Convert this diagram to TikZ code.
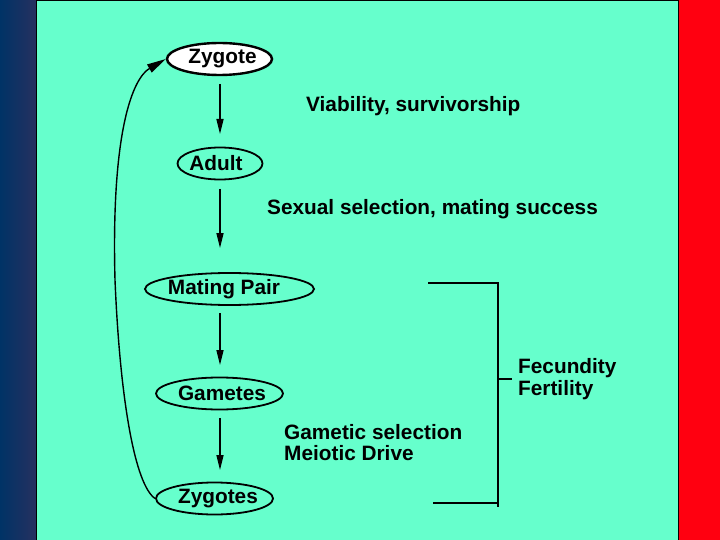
\documentclass[tikz,border=0pt]{standalone}
\usepackage{fontspec}
\setmainfont{Liberation Sans}
\usetikzlibrary{shapes.geometric,arrows.meta}
\definecolor{aqua}{HTML}{66FFCC}
\definecolor{stripL}{HTML}{003366}
\definecolor{stripR}{HTML}{263060}
\definecolor{redstrip}{HTML}{FF0010}
\tikzset{
  stage/.style={ellipse, draw=black, line width=1.8pt, inner sep=0pt,
    minimum height=32pt},
  stagetext/.style={inner sep=0pt, font=\fontsize{20.8}{22}\selectfont\bfseries},
  lbl/.style={anchor=west, align=left, inner sep=0pt,
    font=\fontsize{20.8}{21.5}\selectfont\bfseries},
  flow/.style={line width=1.5pt, -{Triangle[length=15pt,width=7pt]}},
  backflow/.style={line width=1.4pt, -{Triangle[length=19pt,width=9pt]}},
  brk/.style={line width=2pt}
}
\begin{document}
\begin{tikzpicture}[x=1pt,y=-1pt]
\useasboundingbox (0,0) rectangle (720,540);
% background
\fill[aqua] (0,0) rectangle (720,540);
\shade[left color=stripL, right color=stripR] (0,0) rectangle (36,540);
\fill[redstrip] (679,0) rectangle (720,540);
\draw[line width=1.2pt] (36.6,0) -- (36.6,540);
\draw[line width=1.2pt] (678.4,0) -- (678.4,540);
\draw[line width=1.2pt] (36,0.6) -- (679,0.6);
% stages
\node[stage, fill=white, minimum width=105pt, line width=2.4pt] (zyg) at (219.5,59) {};
\node[stagetext] (zygt) at ([xshift=3pt]zyg.center) {Zygote};
\node[stage, minimum width=85pt] (adult) at (220,163.5) {};
\node[stagetext] (adultt) at ([xshift=-4pt]adult.center) {Adult};
\node[stage, minimum width=169pt] (pair) at (229.5,289) {};
\node[stagetext] (pairt) at ([xshift=-5.5pt]pair.center) {Mating Pair};
\node[stage, minimum width=127pt] (gam) at (219.5,393.5) {};
\node[stagetext] (gamt) at ([xshift=2.5pt]gam.center) {Gametes};
\node[stage, minimum width=117pt] (zygs) at (214.5,498.5) {};
\node[stagetext] (zygst) at ([xshift=3.5pt]zygs.center) {Zygotes};
% flow arrows
\coordinate (a1s) at (220,84); \coordinate (a1e) at (220,134);
\coordinate (a2s) at (220,189); \coordinate (a2e) at (220,248);
\coordinate (a3s) at (220,313); \coordinate (a3e) at (220,365);
\coordinate (a4s) at (220,418); \coordinate (a4e) at (220,470);
\draw[flow] (a1s) -- (a1e);
\draw[flow] (a2s) -- (a2e);
\draw[flow] (a3s) -- (a3e);
\draw[flow] (a4s) -- (a4e);
% return curve
\draw[backflow] (zygs.west) .. controls (135,485) and (120,400) .. (115,280)
  .. controls (111,130) and (133,78) .. (zyg.west);
% labels
\node[lbl] (via) at (306,106) {Viability, survivorship};
\node[lbl] (sex) at (267,209) {Sexual selection, mating success};
\node[lbl] (gsel) at (284,442.5) {Gametic selection\\Meiotic Drive};
\node[lbl] (fec) at (518,379) {Fecundity\\Fertility};
% bracket
\coordinate (bt1) at (428,283); \coordinate (bt2) at (498,283);
\coordinate (bb1) at (433,503); \coordinate (bb2) at (498,503);
\coordinate (bv) at (498,507);
\coordinate (bm) at (498,379);
\draw[brk] (bt1) -- (bt2) -- (bv);
\draw[brk] (bb1) -- (bb2);
\draw[brk] (bm) -- (fec.west -| 512,0);
\end{tikzpicture}
\end{document}
